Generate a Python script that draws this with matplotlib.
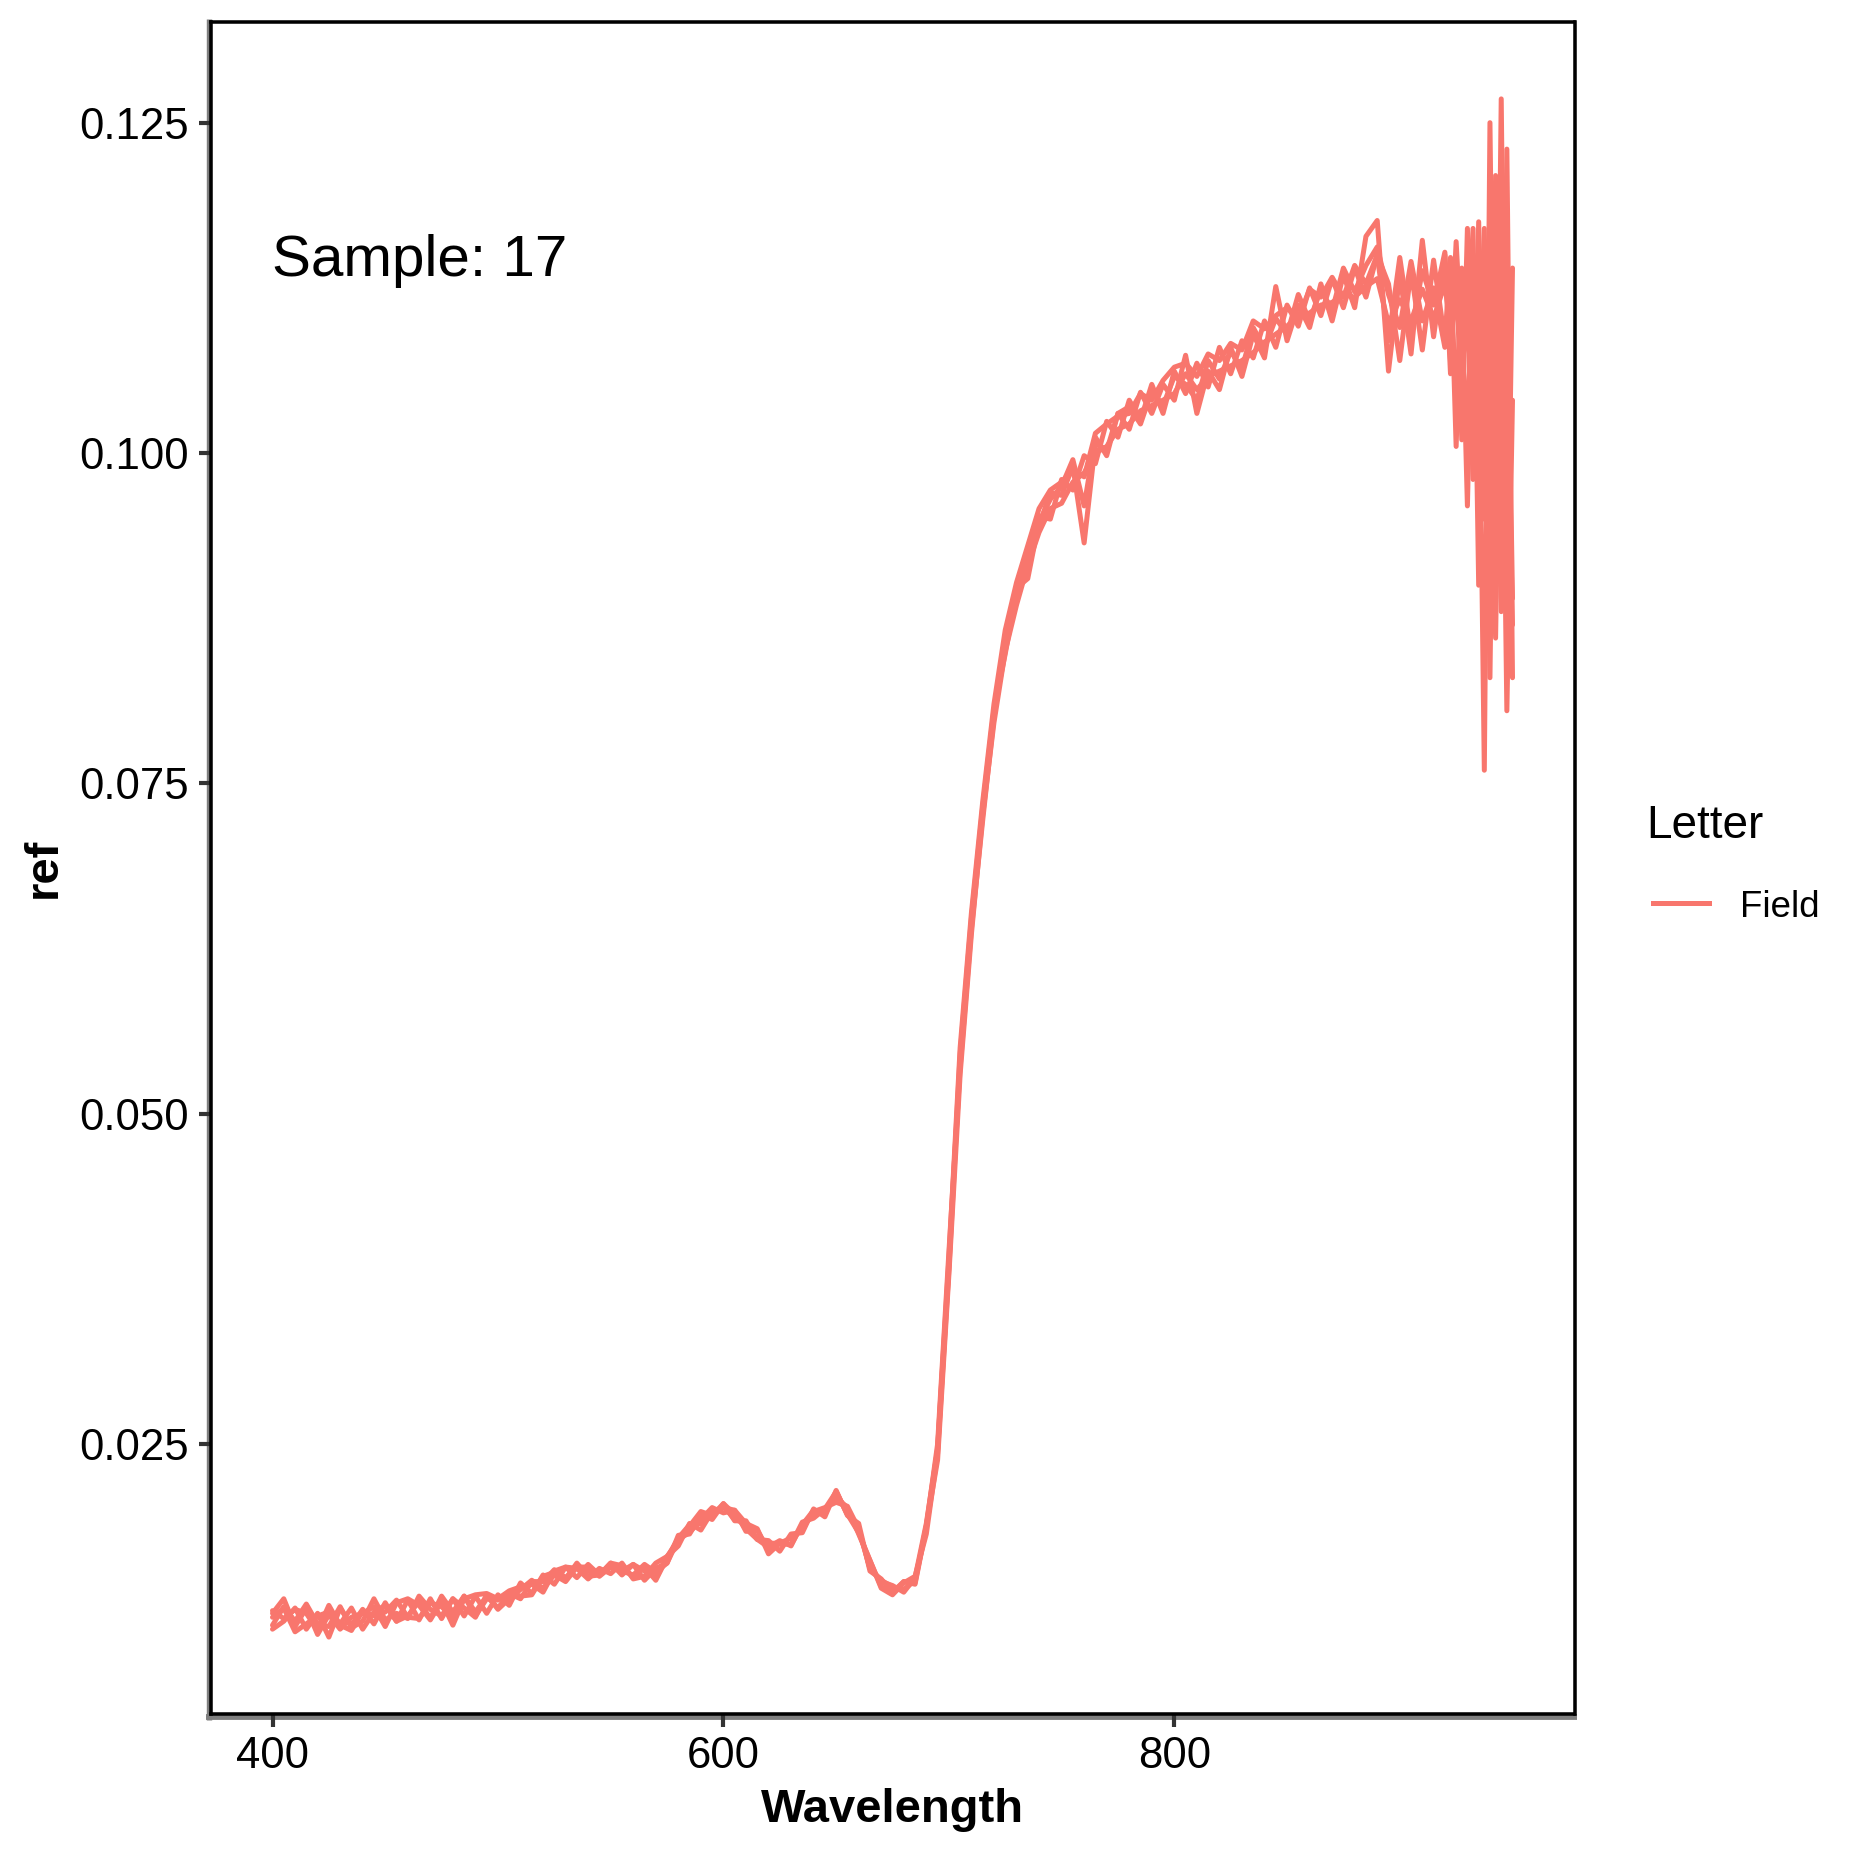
import matplotlib
matplotlib.use("Agg")
import matplotlib.pyplot as plt
from matplotlib.lines import Line2D
from matplotlib.ticker import FormatStrFormatter

plt.rcParams['font.family'] = ['Liberation Sans', 'DejaVu Sans']

# ---------------- data ----------------
wavelength = [400, 405, 410, 415, 420, 425, 430, 435, 440, 445, 450, 455, 460, 465, 470,
              475, 480, 485, 490, 495, 500, 505, 510, 515, 520, 525, 530, 535, 540, 545,
              550, 555, 560, 565, 570, 575, 580, 585, 590, 595, 600, 605, 610, 615, 620,
              625, 630, 635, 640, 645, 650, 655, 660, 665, 670, 675, 680, 685, 690, 695,
              700, 705, 710, 715, 720, 725, 730, 735, 740, 745, 750, 755, 760, 765, 770,
              775, 780, 785, 790, 795, 800, 805, 810, 815, 820, 825, 830, 835, 840, 845,
              850, 855, 860, 865, 870, 875, 880, 885, 890, 895, 900, 905, 910, 915, 920,
              922.5, 925, 927.5, 930, 932.5, 935, 937.5, 940, 942.5, 945, 947.5, 950]

ref_1 = [0.0122, 0.0133, 0.0112, 0.0126, 0.0106, 0.0121, 0.0110, 0.0119, 0.0122, 0.0127,
         0.0112, 0.0130, 0.0133, 0.0128, 0.0117, 0.0131, 0.0113, 0.0133, 0.0136, 0.0137,
         0.0133, 0.0139, 0.0142, 0.0144, 0.0138, 0.0154, 0.0157, 0.0156, 0.0148, 0.0156,
         0.0152, 0.0160, 0.0148, 0.0150, 0.0160, 0.0165, 0.0177, 0.0188, 0.0199, 0.0196,
         0.0205, 0.0197, 0.0186, 0.0178, 0.0172, 0.0177, 0.0173, 0.0190, 0.0196, 0.0201,
         0.0210, 0.0202, 0.0182, 0.0162, 0.0142, 0.0138, 0.0146, 0.0144, 0.0187, 0.0246,
         0.0385, 0.0545, 0.0648, 0.0732, 0.0806, 0.0848, 0.0895, 0.0925, 0.0945, 0.0970,
         0.0968, 0.0990, 0.0932, 0.1008, 0.1002, 0.1030, 0.1018, 0.1046, 0.1030, 0.1052,
         0.1040, 0.1074, 0.1030, 0.1062, 0.1048, 0.1080, 0.1058, 0.1090, 0.1072, 0.1126,
         0.1085, 0.1112, 0.1095, 0.1128, 0.1100, 0.1135, 0.1110, 0.1164, 0.1176, 0.1062,
         0.1135, 0.1075, 0.1161, 0.1088, 0.1150,
         0.1060, 0.1150, 0.1010, 0.1170, 0.1050, 0.1100, 0.0760, 0.1250, 0.0890, 0.1268,
         0.0870, 0.1140]

ref_2 = [0.0110, 0.0116, 0.0126, 0.0110, 0.0122, 0.0104, 0.0126, 0.0113, 0.0125, 0.0114,
         0.0130, 0.0116, 0.0132, 0.0117, 0.0133, 0.0118, 0.0133, 0.0120, 0.0135, 0.0122,
         0.0136, 0.0128, 0.0145, 0.0137, 0.0151, 0.0144, 0.0157, 0.0149, 0.0159, 0.0151,
         0.0160, 0.0151, 0.0159, 0.0147, 0.0156, 0.0160, 0.0181, 0.0182, 0.0197, 0.0193,
         0.0205, 0.0192, 0.0192, 0.0178, 0.0177, 0.0169, 0.0182, 0.0183, 0.0201, 0.0195,
         0.0215, 0.0196, 0.0190, 0.0154, 0.0148, 0.0137, 0.0146, 0.0145, 0.0188, 0.0250,
         0.0395, 0.0535, 0.0640, 0.0722, 0.0800, 0.0855, 0.0890, 0.0918, 0.0952, 0.0950,
         0.0980, 0.0972, 0.0998, 0.0992, 0.1024, 0.1012, 0.1040, 0.1025, 0.1052, 0.1030,
         0.1062, 0.1045, 0.1068, 0.1050, 0.1080, 0.1060, 0.1085, 0.1072, 0.1100, 0.1080,
         0.1112, 0.1096, 0.1125, 0.1104, 0.1132, 0.1110, 0.1140, 0.1118, 0.1150, 0.1128,
         0.1070, 0.1138, 0.1078, 0.1146, 0.1085,
         0.1148, 0.1005, 0.1140, 0.1080, 0.1170, 0.0900, 0.1120, 0.0830, 0.1160, 0.0880,
         0.1080, 0.0870]

ref_3 = [0.0124, 0.0118, 0.0125, 0.0122, 0.0109, 0.0128, 0.0113, 0.0109, 0.0124, 0.0120,
         0.0123, 0.0132, 0.0119, 0.0118, 0.0130, 0.0127, 0.0119, 0.0135, 0.0120, 0.0133,
         0.0132, 0.0138, 0.0135, 0.0136, 0.0150, 0.0153, 0.0148, 0.0160, 0.0150, 0.0151,
         0.0160, 0.0158, 0.0149, 0.0157, 0.0147, 0.0164, 0.0179, 0.0189, 0.0190, 0.0198,
         0.0203, 0.0193, 0.0190, 0.0178, 0.0175, 0.0175, 0.0174, 0.0191, 0.0194, 0.0201,
         0.0214, 0.0197, 0.0186, 0.0156, 0.0147, 0.0142, 0.0140, 0.0147, 0.0188, 0.0238,
         0.0378, 0.0530, 0.0636, 0.0726, 0.0796, 0.0850, 0.0885, 0.0915, 0.0940, 0.0958,
         0.0962, 0.0978, 0.0985, 0.1000, 0.1005, 0.1018, 0.1022, 0.1032, 0.1036, 0.1040,
         0.1045, 0.1060, 0.1048, 0.1058, 0.1062, 0.1066, 0.1070, 0.1076, 0.1084, 0.1090,
         0.1096, 0.1104, 0.1106, 0.1112, 0.1114, 0.1120, 0.1118, 0.1126, 0.1132, 0.1098,
         0.1116, 0.1100, 0.1124, 0.1102, 0.1128,
         0.1095, 0.1128, 0.1060, 0.1110, 0.0980, 0.1175, 0.0950, 0.1100, 0.0860, 0.1130,
         0.0805, 0.1040]

ref_4 = [0.0113, 0.0127, 0.0116, 0.0129, 0.0114, 0.0112, 0.0127, 0.0111, 0.0116, 0.0133,
         0.0117, 0.0122, 0.0118, 0.0135, 0.0125, 0.0120, 0.0133, 0.0126, 0.0119, 0.0136,
         0.0125, 0.0133, 0.0140, 0.0147, 0.0141, 0.0151, 0.0146, 0.0157, 0.0157, 0.0150,
         0.0157, 0.0154, 0.0159, 0.0154, 0.0149, 0.0165, 0.0173, 0.0190, 0.0185, 0.0199,
         0.0202, 0.0200, 0.0184, 0.0185, 0.0170, 0.0176, 0.0174, 0.0189, 0.0200, 0.0197,
         0.0214, 0.0197, 0.0183, 0.0162, 0.0141, 0.0136, 0.0145, 0.0150, 0.0182, 0.0243,
         0.0382, 0.0540, 0.0644, 0.0728, 0.0802, 0.0858, 0.0898, 0.0905, 0.0948, 0.0965,
         0.0975, 0.0995, 0.0960, 0.1012, 0.0998, 0.1030, 0.1035, 0.1022, 0.1047, 0.1036,
         0.1058, 0.1052, 0.1040, 0.1070, 0.1056, 0.1077, 0.1064, 0.1095, 0.1079, 0.1102,
         0.1090, 0.1120, 0.1100, 0.1124, 0.1108, 0.1140, 0.1122, 0.1142, 0.1156, 0.1120,
         0.1095, 0.1145, 0.1100, 0.1125, 0.1080,
         0.1130, 0.1040, 0.1120, 0.0960, 0.1150, 0.1010, 0.1060, 0.0950, 0.1180, 0.0900,
         0.1230, 0.0830]

ref_5 = [0.0119, 0.0126, 0.0108, 0.0114, 0.0120, 0.0123, 0.0114, 0.0126, 0.0110, 0.0123,
         0.0128, 0.0116, 0.0120, 0.0131, 0.0118, 0.0135, 0.0123, 0.0135, 0.0123, 0.0135,
         0.0126, 0.0137, 0.0133, 0.0146, 0.0146, 0.0155, 0.0149, 0.0157, 0.0154, 0.0151,
         0.0158, 0.0154, 0.0151, 0.0159, 0.0153, 0.0160, 0.0178, 0.0183, 0.0193, 0.0202,
         0.0198, 0.0200, 0.0190, 0.0186, 0.0167, 0.0175, 0.0179, 0.0186, 0.0199, 0.0202,
         0.0206, 0.0203, 0.0186, 0.0156, 0.0146, 0.0143, 0.0138, 0.0149, 0.0190, 0.0246,
         0.0390, 0.0550, 0.0652, 0.0736, 0.0810, 0.0866, 0.0902, 0.0930, 0.0958, 0.0972,
         0.0978, 0.0988, 0.0982, 0.1015, 0.1022, 0.1028, 0.1030, 0.1045, 0.1040, 0.1055,
         0.1065, 0.1068, 0.1058, 0.1075, 0.1070, 0.1083, 0.1078, 0.1100, 0.1094, 0.1104,
         0.1110, 0.1102, 0.1124, 0.1118, 0.1133, 0.1118, 0.1142, 0.1128, 0.1150, 0.1085,
         0.1148, 0.1090, 0.1138, 0.1112, 0.1152,
         0.1070, 0.1160, 0.1080, 0.1020, 0.1130, 0.1050, 0.1170, 0.0880, 0.1210, 0.0930,
         0.1150, 0.0890]

replicates = [ref_1, ref_2, ref_3, ref_4, ref_5]
group_label = "Field"
legend_title = "Letter"
sample_label = "Sample: 17"
x_ticks = [400, 600, 800]
y_ticks = [0.025, 0.050, 0.075, 0.100, 0.125]

# ---------------- styling ----------------
LINE_COLOR = "#F8766D"
W, H, DPI = 1865, 1856, 300

fig = plt.figure(figsize=(W / DPI, H / DPI), dpi=DPI)
fig.patch.set_facecolor("white")

px_left, px_right, px_top, px_bottom = 210.5, 1574.5, 22.0, 1714.0
ax = fig.add_axes([px_left / W, 1 - px_bottom / H,
                   (px_right - px_left) / W, (px_bottom - px_top) / H])

for series in replicates:
    ax.plot(wavelength, series, color=LINE_COLOR, lw=1.2,
            solid_capstyle="round", solid_joinstyle="round")

ax.margins(x=0.05, y=0.05)
ax.set_xticks(x_ticks)
ax.set_yticks(y_ticks)
ax.yaxis.set_major_formatter(FormatStrFormatter("%.3f"))

for sp in ax.spines.values():
    sp.set_color("black")
    sp.set_linewidth(0.85)

ax.tick_params(axis="both", direction="out", length=3.0, width=1.0,
               color="#333333", labelsize=10.5, labelcolor="black", pad=2.2)

# gray axis lines (left & bottom), slightly outside the black border
fig.add_artist(Line2D([208.5 / W, 208.5 / W], [1 - 1720 / H, 1 - 19 / H],
                      transform=fig.transFigure, color="#7F7F7F", lw=1.3,
                      zorder=-1, solid_capstyle="butt"))
fig.add_artist(Line2D([206 / W, 1577 / W], [1 - 1717 / H, 1 - 1717 / H],
                      transform=fig.transFigure, color="#7F7F7F", lw=1.4,
                      zorder=-1, solid_capstyle="butt"))

# annotation
ax.text(400, 0.1134, sample_label, fontsize=14, ha="left", va="baseline", color="black")

# axis titles
fig.text(892 / W, 1 - 1822 / H, "Wavelength", fontsize=11.3, fontweight="bold",
         ha="center", va="baseline")
fig.text(44 / W, 1 - 868 / H, "ref", fontsize=11.3, fontweight="bold",
         ha="center", va="center", rotation=90)

# legend (drawn by hand, ggplot style)
fig.text(1646 / W, 1 - 838.5 / H, legend_title, fontsize=11, ha="left", va="baseline")
fig.add_artist(Line2D([1653 / W, 1709 / W], [1 - 903 / H, 1 - 903 / H],
                      transform=fig.transFigure, color=LINE_COLOR, lw=1.2))
fig.text(1740 / W, 1 - 903 / H, group_label, fontsize=8.8, ha="left", va="center_baseline")

fig.savefig("out.png", dpi=DPI, facecolor="white")
